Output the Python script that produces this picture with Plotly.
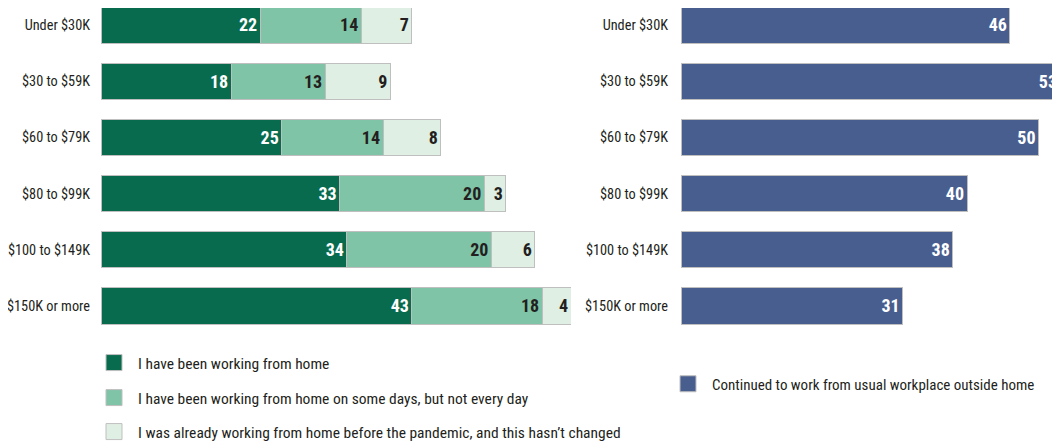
import plotly.graph_objects as go

categories = ["Under $30K", "$30 to $59K", "$60 to $79K", "$80 to $99K", "$100 to $149K", "$150K or more"]
wfh_full = [22, 18, 25, 33, 34, 43]
wfh_some = [14, 13, 14, 20, 20, 18]
wfh_already = [7, 9, 8, 3, 6, 4]
outside_home = [46, 53, 50, 40, 38, 31]

left_names = [
    "I have been working from home",
    "I have been working from home on some days, but not every day",
    "I was already working from home before the pandemic, and this hasn\u2019t changed",
]
right_name = "Continued to work from usual workplace outside home"

colors = ["#086b4e", "#80c4a8", "#e0efe4"]
blue = "#485e8f"
text_colors = ["white", "#231f20", "#231f20"]
label_font = "Liberation Sans Narrow, Roboto Condensed, DejaVu Sans Condensed, Arial Narrow, sans-serif"
num_font = "Liberation Sans Narrow, Roboto Condensed, DejaVu Sans Condensed, Arial Narrow, sans-serif"

fig = go.Figure()
legend_ids = ["legend", "legend2", "legend3"]
for vals, name, col, tcol, lg in zip([wfh_full, wfh_some, wfh_already], left_names, colors, text_colors, legend_ids):
    fig.add_trace(go.Bar(
        y=categories, x=vals, orientation="h", name=name,
        marker=dict(color=col, line=dict(color="#bfbfbf", width=1)),
        text=[str(v) for v in vals], textposition="inside", insidetextanchor="end",
        textangle=0, constraintext="none",
        textfont=dict(family=num_font, size=18, color=tcol, weight="bold"),
        showlegend=False, xaxis="x", yaxis="y",
    ))
    fig.add_trace(go.Scatter(
        x=[None], y=[None], mode="markers", name=name,
        marker=dict(symbol="square", size=20, color=col, line=dict(color="#bfbfbf", width=1)),
        showlegend=True, legend=lg, xaxis="x", yaxis="y",
    ))

fig.add_trace(go.Bar(
    y=categories, x=outside_home, orientation="h", name=right_name,
    marker=dict(color=blue, line=dict(color="#bfbfbf", width=1)),
    text=[str(v) for v in outside_home], textposition="inside", insidetextanchor="end",
    textangle=0, constraintext="none",
    textfont=dict(family=num_font, size=18, color="white", weight="bold"),
    showlegend=False, xaxis="x2", yaxis="y2",
))
fig.add_trace(go.Scatter(
    x=[None], y=[None], mode="markers", name=right_name,
    marker=dict(symbol="square", size=20, color=blue, line=dict(color="#bfbfbf", width=1)),
    showlegend=True, legend="legend4", xaxis="x2", yaxis="y2",
))

# page body has an 8px margin, so the figure is drawn 8px in from the top-left
OFF = 8
W, H = 1060 - OFF, 443 - OFF
ydom = [1 - (334 - OFF) / H, 1]
yrange = [5.5, -(25 - OFF) / 56.3]


def leg(x, y, size):
    return dict(x=(x - OFF) / W, y=1 - (y - OFF) / H, bgcolor="rgba(0,0,0,0)", borderwidth=0,
                xanchor="left", yanchor="middle", itemwidth=38,
                font=dict(family=label_font, size=size, color="#231f20"))


fig.update_layout(
    width=W, height=H,
    margin=dict(l=0, r=0, t=0, b=0, autoexpand=False),
    paper_bgcolor="white", plot_bgcolor="white",
    barmode="stack", bargap=0.355,
    xaxis=dict(domain=[(101 - OFF) / W, (571 - OFF) / W], range=[0, 65], visible=False,
               fixedrange=True, automargin=False),
    yaxis=dict(domain=ydom, range=yrange, showgrid=False, zeroline=False, showline=False,
               ticks="", ticklabelstandoff=10, automargin=False,
               tickfont=dict(family=label_font, size=14.3, color="#231f20")),
    xaxis2=dict(domain=[(681 - OFF) / W, 1.0], range=[0, 53], visible=False, fixedrange=True,
                anchor="y2", automargin=False),
    yaxis2=dict(domain=ydom, range=yrange, showgrid=False, zeroline=False, showline=False,
                ticks="", ticklabelstandoff=12, anchor="x2", automargin=False,
                tickfont=dict(family=label_font, size=14.3, color="#231f20")),
    legend=leg(90, 363, 15.5),
    legend2=leg(90, 398, 15.5),
    legend3=leg(90, 432, 15.5),
    legend4=leg(664, 384, 15),
)

fig.write_html("out.html")
